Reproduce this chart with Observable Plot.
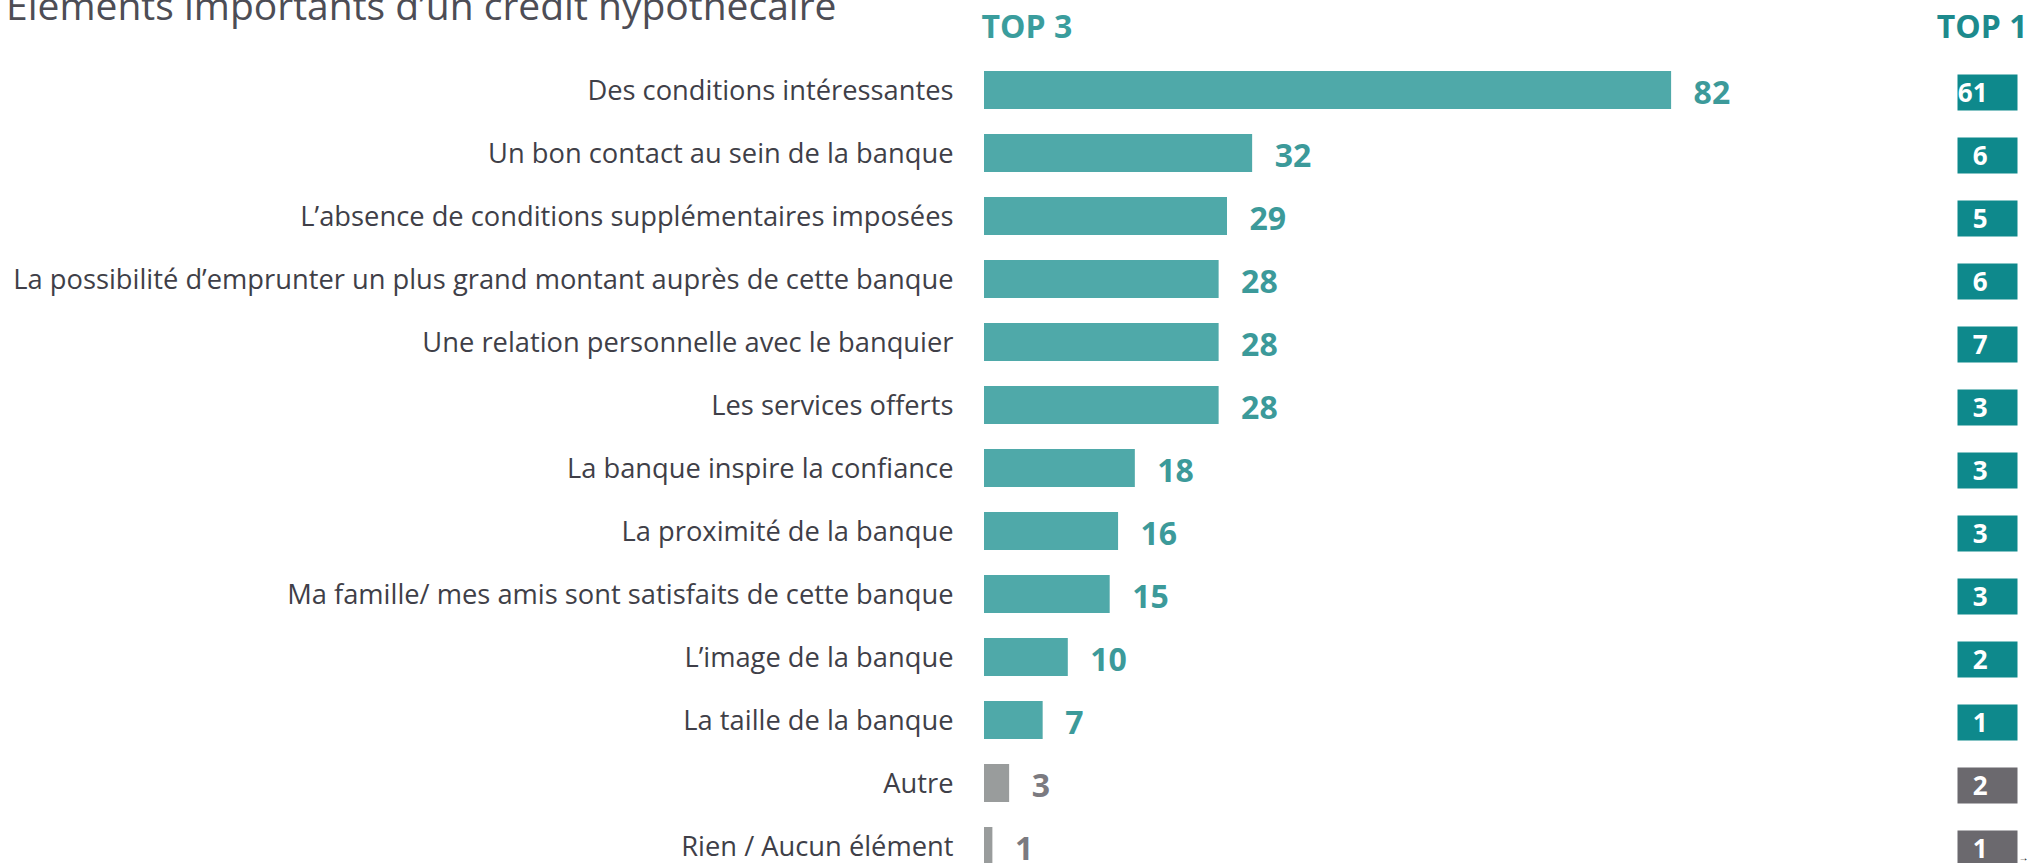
<!DOCTYPE html>
<html>
<head>
<meta charset="utf-8">
<script src="https://cdn.jsdelivr.net/npm/d3@7"></script>
<script src="https://cdn.jsdelivr.net/npm/@observablehq/plot@0.6"></script>
<style>
  html, body { margin: 0; padding: 0; background: #fff; overflow: hidden; }
  #wrap { position: relative; width: 2031px; height: 863px; }
  #title { position: absolute; left: 6px; top: -15px; font-family: "Open Sans", sans-serif; font-size: 39px; line-height: 39px; color: #4d4d55; white-space: nowrap; z-index: 2; }
  #chart { position: absolute; left: 0; top: 0; }
</style>
</head>
<body>
<div id="wrap">
  <div id="title">Eléments importants d’un crédit hypothécaire</div>
  <div id="chart"></div>
</div>
<script>
const categories = [
  "Des conditions intéressantes",
  "Un bon contact au sein de la banque",
  "L’absence de conditions supplémentaires imposées",
  "La possibilité d’emprunter un plus grand montant auprès de cette banque",
  "Une relation personnelle avec le banquier",
  "Les services offerts",
  "La banque inspire la confiance",
  "La proximité de la banque",
  "Ma famille/ mes amis sont satisfaits de cette banque",
  "L’image de la banque",
  "La taille de la banque",
  "Autre",
  "Rien / Aucun élément"
];
const top3 = [82, 32, 29, 28, 28, 28, 18, 16, 15, 10, 7, 3, 1];
const top1 = [61, 6, 5, 6, 7, 3, 3, 3, 3, 2, 1, 2, 1];
const kinds = ["main","main","main","main","main","main","main","main","main","main","main","other","other"];
const headers = ["TOP 3", "TOP 1"];

const barColor   = {main: "#4fa9a9", other: "#999c9c"};
const valueColor = {main: "#3c9a9a", other: "#7b7a80"};
const boxColor   = {main: "#0e898c", other: "#6b696e"};

const data = categories.map((c, i) => ({cat: c, top3: top3[i], top1: top1[i], kind: kinds[i]}));

const boxSymbol = {
  draw(context) { context.rect(-30, -18, 60, 36); }
};

const chart = Plot.plot({
  width: 2031,
  height: 863,
  marginLeft: 984,
  marginRight: 44,
  marginTop: 70,
  marginBottom: 0,
  style: {fontFamily: "Open Sans, sans-serif", background: "transparent", overflow: "visible"},
  color: {type: "identity"},
  x: {domain: [0, 119.7]},
  y: {domain: categories, range: [70, 866], paddingInner: 0.4, paddingOuter: 0, align: 0.5},
  marks: [
    Plot.axisY({tickSize: 0, tickPadding: 31, fontSize: 27.3, label: null, fill: "#3f3f48", dy: 1}),
    Plot.barX(data, {x: "top3", y: "cat", fill: d => barColor[d.kind]}),
    Plot.text(data, {x: "top3", y: "cat", text: d => String(d.top3), textAnchor: "start", dx: 22, dy: 3,
      fill: d => valueColor[d.kind], fontWeight: 700, fontSize: 32}),
    Plot.dot(data, {y: "cat", frameAnchor: "right", symbol: boxSymbol, fill: d => boxColor[d.kind], stroke: null, dy: 2}),
    Plot.text(data, {y: "cat", frameAnchor: "right", text: d => String(d.top1), fill: "white", fontWeight: 700, fontSize: 26, dy: 3}),
    Plot.text([headers[0]], {frameAnchor: "top-left", textAnchor: "start", lineAnchor: "top", dx: -3, dy: -55,
      text: d => d, fill: "#3a9d9d", fontWeight: 700, fontSize: 32}),
    Plot.text([headers[1]], {frameAnchor: "top-right", textAnchor: "end", lineAnchor: "top", dx: 40, dy: -55,
      text: d => d, fill: "#1d8a8d", fontWeight: 700, fontSize: 32})
  ]
});
document.getElementById("chart").appendChild(chart);
</script>
</body>
</html>
